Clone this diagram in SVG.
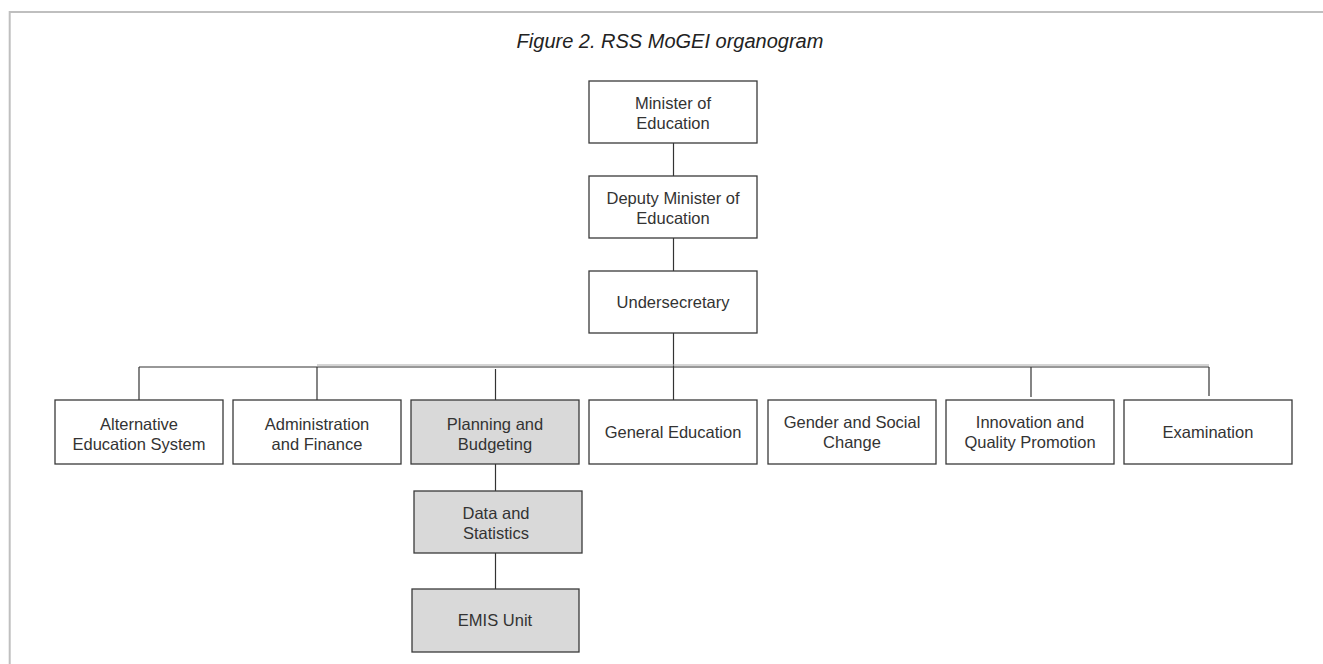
<svg xmlns="http://www.w3.org/2000/svg" width="1323" height="664" viewBox="0 0 1323 664">
<style>
.frame{stroke:#bfbfbf;stroke-width:2;fill:none}
.box{fill:#ffffff;stroke:#3a3a3a;stroke-width:1.3}
.hl{fill:#d9d9d9;stroke:#3a3a3a;stroke-width:1.3}
.lbl{font-family:"Liberation Sans",Arial,sans-serif;font-size:16.5px;fill:#333333;text-anchor:middle}
.title{font-family:"Liberation Sans",Arial,sans-serif;font-size:20px;font-style:italic;fill:#222222;text-anchor:middle}
.conn line{stroke:#333333;stroke-width:1.2}
</style>
<rect width="1323" height="664" fill="#ffffff"/>
<path class="frame" d="M9.7,664 V12 H1323"/>
<text class="title" x="670" y="48">Figure 2. RSS MoGEI organogram</text>
<g class="conn" id="connectors">
<line x1="673.5" y1="143" x2="673.5" y2="176"/>
<line x1="673.5" y1="238" x2="673.5" y2="271"/>
<line x1="673.5" y1="333" x2="673.5" y2="400"/>
<line x1="139" y1="367" x2="1209" y2="367"/>
<line x1="317" y1="365" x2="1209" y2="365" style="stroke:#aaaaaa;stroke-width:1"/>
<line x1="139" y1="367" x2="139" y2="400"/>
<line x1="317" y1="367" x2="317" y2="400"/>
<line x1="495.5" y1="369" x2="495.5" y2="400"/>
<line x1="1031" y1="367" x2="1031" y2="397"/>
<line x1="1209" y1="367" x2="1209" y2="396"/>
<line x1="495.5" y1="464" x2="495.5" y2="491"/>
<line x1="495.5" y1="553" x2="495.5" y2="589"/>
</g>
<g id="minister"><rect class="box" x="589" y="81" width="168" height="62"/><text class="lbl" x="673" y="109">Minister of</text><text class="lbl" x="673" y="129">Education</text></g>
<g id="deputy"><rect class="box" x="589" y="176" width="168" height="62"/><text class="lbl" x="673" y="204">Deputy Minister of</text><text class="lbl" x="673" y="224">Education</text></g>
<g id="undersecretary"><rect class="box" x="589" y="271" width="168" height="62"/><text class="lbl" x="673" y="308">Undersecretary</text></g>
<g id="alternative"><rect class="box" x="55" y="400" width="168" height="64"/><text class="lbl" x="139" y="430">Alternative</text><text class="lbl" x="139" y="450">Education System</text></g>
<g id="administration"><rect class="box" x="233" y="400" width="168" height="64"/><text class="lbl" x="317" y="430">Administration</text><text class="lbl" x="317" y="450">and Finance</text></g>
<g id="planning"><rect class="hl" x="411" y="400" width="168" height="64"/><text class="lbl" x="495" y="430">Planning and</text><text class="lbl" x="495" y="450">Budgeting</text></g>
<g id="general"><rect class="box" x="589" y="400" width="168" height="64"/><text class="lbl" x="673" y="438">General Education</text></g>
<g id="gender"><rect class="box" x="768" y="400" width="168" height="64"/><text class="lbl" x="852" y="428">Gender and Social</text><text class="lbl" x="852" y="448">Change</text></g>
<g id="innovation"><rect class="box" x="946" y="400" width="168" height="64"/><text class="lbl" x="1030" y="428">Innovation and</text><text class="lbl" x="1030" y="448">Quality Promotion</text></g>
<g id="examination"><rect class="box" x="1124" y="400" width="168" height="64"/><text class="lbl" x="1208" y="438">Examination</text></g>
<g id="data"><rect class="hl" x="414" y="491" width="168" height="62"/><text class="lbl" x="496" y="519">Data and</text><text class="lbl" x="496" y="539">Statistics</text></g>
<g id="emis"><rect class="hl" x="412" y="589" width="167" height="63"/><text class="lbl" x="495" y="626">EMIS Unit</text></g>
</svg>
